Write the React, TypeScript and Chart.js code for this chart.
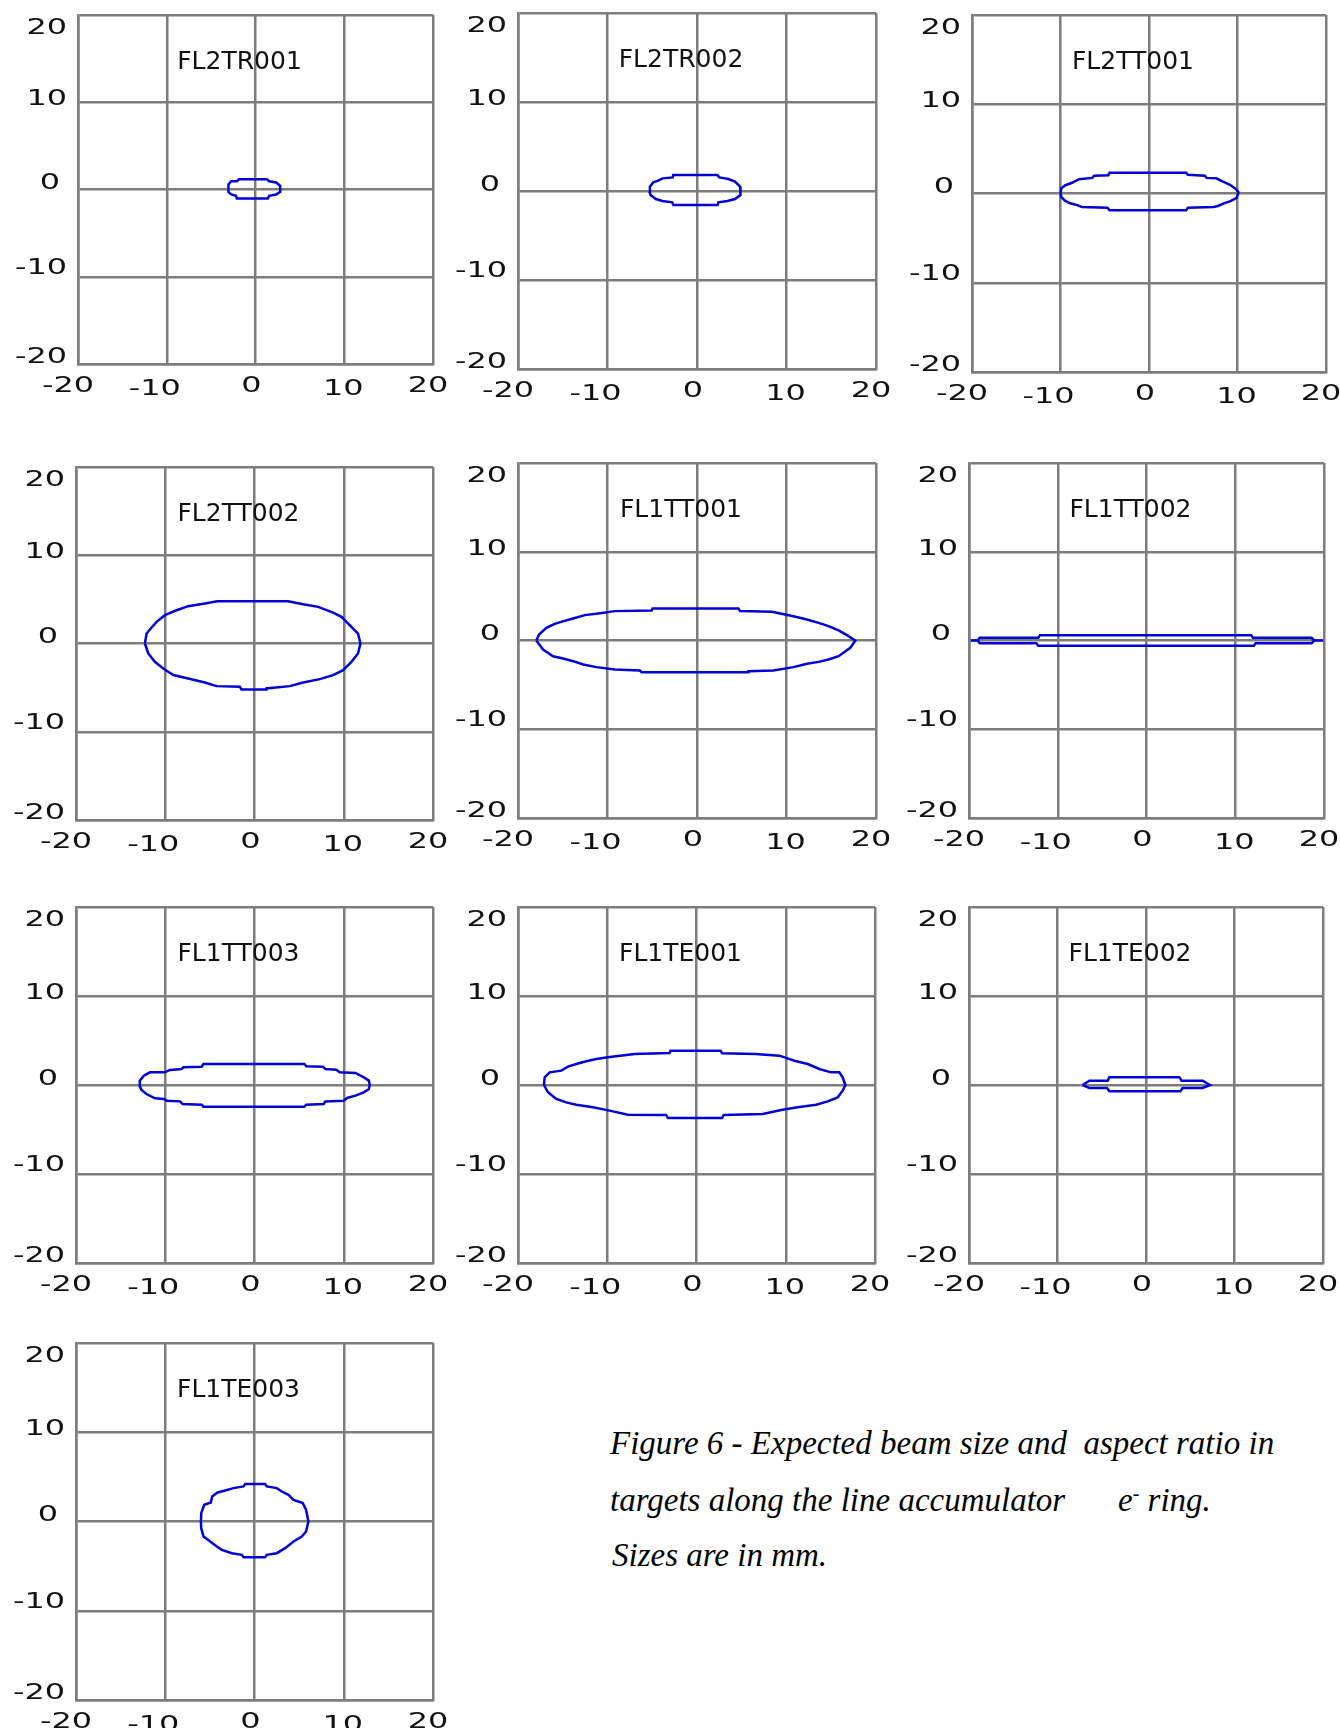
import React, { useEffect, useRef } from "react";
import { Chart, registerables } from "chart.js";

Chart.register(...registerables);

// ---------- data (mm) ----------
const PANEL_NAMES = [
  "FL2TR001", "FL2TR002", "FL2TT001",
  "FL2TT002", "FL1TT001", "FL1TT002",
  "FL1TT003", "FL1TE001", "FL1TE002",
  "FL1TE003",
];

const AXIS_TICKS = [-20, -10, 0, 10, 20];
const AXIS_MIN = -20;
const AXIS_MAX = 20;

// contour outlines [x, y]
const FL2TR001 = [
  [-3.05, 0], [-3.05, 0.57], [-2.74, 0.95], [-2.1, 0.95], [-1.85, 1.18], [1.28, 1.18],
  [1.54, 0.95], [2.33, 0.8], [2.78, 0.42], [2.78, -0.27], [2.33, -0.57], [1.54, -0.73],
  [1.39, -1.03], [-2.1, -1.03], [-2.2, -0.73], [-2.74, -0.57], [-3.05, -0.27], [-3.05, 0],
];

const FL2TR002 = [
  [-5.34, 0], [-5.26, 0.49], [-4.89, 0.97], [-4.33, 1.16], [-3.84, 1.42], [-2.72, 1.53],
  [-2.65, 1.79], [2.28, 1.79], [2.5, 1.53], [3.5, 1.35], [4.25, 1.05], [4.81, 0.49],
  [4.9, 0], [4.81, -0.45], [4.25, -0.9], [3.4, -1.12], [2.39, -1.27], [2.31, -1.57],
  [-2.65, -1.57], [-2.76, -1.27], [-3.88, -1.12], [-4.6, -0.9], [-5.19, -0.45], [-5.34, 0],
];

const FL2TT001 = [
  [-10, 0], [-9.9, 0.6], [-9.5, 0.9], [-8.7, 1.2], [-7.9, 1.6], [-6.4, 1.75], [-6.2, 2.0],
  [-4.6, 2.05], [-4.45, 2.32], [4.2, 2.32], [4.4, 2.1], [6.3, 2.0], [6.5, 1.75], [7.6, 1.7],
  [8.3, 1.35], [9.1, 1.0], [9.7, 0.6], [10.08, 0.2], [10.08, 0], [9.9, -0.5], [9.2, -0.85],
  [8.6, -1.05], [7.8, -1.4], [7.3, -1.5], [4.4, -1.6], [4.2, -1.87], [-4.45, -1.87],
  [-4.7, -1.6], [-7.6, -1.5], [-8.1, -1.3], [-8.9, -1.1], [-9.5, -0.8], [-9.9, -0.4], [-10, 0],
];

const FL2TT002 = [
  [-12.28, 0], [-12.09, 1.13], [-11.53, 1.81], [-10.97, 2.45], [-10.04, 3.21], [-8.73, 3.77],
  [-7.43, 4.23], [-5.56, 4.53], [-4.18, 4.79], [3.77, 4.79], [5.45, 4.45], [7.13, 4.15],
  [8.81, 3.51], [9.74, 3.02], [10.67, 2.08], [11.6, 1.13], [11.87, 0], [11.6, -1.13],
  [10.86, -2.08], [9.93, -3.02], [8.81, -3.58], [7.31, -4.04], [5.45, -4.42], [3.96, -4.83],
  [1.34, -5.09], [1.34, -5.2], [-1.46, -5.2], [-1.64, -4.91], [-4.25, -4.83], [-5.56, -4.42],
  [-7.43, -3.96], [-9.1, -3.58], [-10.22, -2.83], [-11.16, -2.08], [-11.9, -1.13], [-12.28, 0],
];

const FL1TT001 = [
  [-17.95, 0], [-17.65, 0.68], [-16.83, 1.43], [-15.9, 1.88], [-14.9, 2.18], [-13.84, 2.48],
  [-12.54, 2.86], [-11.04, 3.05], [-9.18, 3.31], [-5.07, 3.38], [-4.96, 3.61], [4.63, 3.61],
  [4.81, 3.31], [8.36, 3.23], [10.78, 2.74], [12.28, 2.37], [13.58, 1.99], [14.7, 1.62],
  [15.82, 1.13], [16.75, 0.6], [17.69, 0], [17.13, -0.83], [15.82, -1.77], [14.7, -2.14],
  [13.58, -2.41], [12.28, -2.63], [10.78, -3.0], [8.54, -3.38], [5.75, -3.46], [5.75, -3.57],
  [-6.19, -3.57], [-6.38, -3.38], [-9.18, -3.27], [-11.23, -3.0], [-12.72, -2.71],
  [-13.84, -2.33], [-14.96, -2.03], [-16.08, -1.77], [-17.2, -1.02], [-17.95, 0],
];

const FL1TT002 = [
  [-19.8, 0], [-19.0, 0], [-18.8, 0.3], [-12.2, 0.3], [-12.0, 0.6], [11.8, 0.6], [12.0, 0.3],
  [18.6, 0.3], [18.9, 0], [19.9, 0], [18.9, 0], [18.6, -0.3], [12.3, -0.3], [12.1, -0.6],
  [-12.2, -0.6], [-12.4, -0.3], [-18.8, -0.3], [-19.0, 0],
];

const FL1TT003 = [
  [-12.92, 0], [-12.85, 0.49], [-12.4, 1.05], [-11.72, 1.42], [-10.04, 1.42], [-9.48, 1.69],
  [-8.16, 1.8], [-7.98, 1.99], [-5.92, 2.06], [-5.73, 2.36], [5.58, 2.36], [5.81, 2.1],
  [7.68, 2.06], [7.94, 1.8], [9.18, 1.72], [9.55, 1.42], [11.31, 1.35], [12.25, 0.86],
  [12.81, 0.49], [12.92, 0], [12.81, -0.45], [12.25, -0.82], [11.31, -1.2], [10.37, -1.46],
  [10.0, -1.76], [7.94, -1.84], [7.75, -2.13], [5.81, -2.21], [5.58, -2.43], [-5.73, -2.43],
  [-5.92, -2.21], [-8.05, -2.13], [-8.35, -1.84], [-9.85, -1.76], [-10.15, -1.57],
  [-11.16, -1.5], [-12.1, -1.01], [-12.66, -0.56], [-12.92, 0],
];

const FL1TE001 = [
  [-17.09, 0], [-17.01, 0.86], [-16.45, 1.42], [-15.15, 1.61], [-14.4, 2.06], [-13.47, 2.36],
  [-12.35, 2.66], [-11.23, 2.92], [-9.93, 3.11], [-6.94, 3.48], [-3.02, 3.6], [-2.91, 3.86],
  [2.69, 3.86], [2.87, 3.56], [6.6, 3.48], [9.29, 3.3], [10.97, 2.73], [12.46, 2.36],
  [13.77, 1.8], [15.07, 1.42], [16.0, 1.42], [16.38, 0.86], [16.68, 0], [16.38, -0.64],
  [15.82, -1.39], [14.7, -1.84], [13.4, -2.21], [11.34, -2.51], [9.48, -2.81], [7.43, -3.26],
  [3.05, -3.37], [2.87, -3.71], [-3.21, -3.71], [-3.4, -3.37], [-7.69, -3.33], [-9.74, -2.88],
  [-11.6, -2.51], [-13.47, -2.21], [-14.59, -1.95], [-15.71, -1.57], [-16.64, -0.82], [-17.09, 0],
];

const FL1TE002 = [
  [-7.16, 0], [-6.4, 0.49], [-4.33, 0.49], [-4.14, 0.86], [3.77, 0.86], [4.03, 0.49],
  [6.4, 0.49], [7.23, 0], [6.4, -0.34], [4.14, -0.34], [3.88, -0.71], [-4.14, -0.71],
  [-4.41, -0.34], [-6.4, -0.34], [-7.16, 0],
];

const FL1TE003 = [
  [-6.0, 0], [-5.97, 0.93], [-5.63, 1.87], [-4.89, 2.13], [-4.74, 2.8], [-4.14, 3.25],
  [-3.28, 3.48], [-2.35, 3.74], [-1.23, 3.93], [-1.04, 4.19], [1.19, 4.19], [1.38, 3.93],
  [2.5, 3.74], [3.06, 3.36], [3.81, 2.99], [4.37, 2.43], [5.41, 2.06], [5.78, 1.31],
  [6.04, 0], [5.78, -1.12], [5.3, -1.68], [4.37, -2.24], [3.43, -2.99], [2.5, -3.55],
  [1.38, -3.74], [1.19, -4.0], [-1.23, -4.0], [-1.42, -3.74], [-2.54, -3.55], [-3.66, -3.18],
  [-4.22, -2.8], [-4.96, -2.24], [-5.71, -1.68], [-5.97, -0.75], [-6.0, 0],
];

const PANEL_DATA = [
  FL2TR001, FL2TR002, FL2TT001,
  FL2TT002, FL1TT001, FL1TT002,
  FL1TT003, FL1TE001, FL1TE002,
  FL1TE003,
];

// ---------- layout (pixel plot rectangles: left, top, right, bottom) ----------
const PANEL_RECTS = [
  [78, 15, 433, 364], [518, 13, 876, 369], [972, 15, 1326, 372],
  [76, 467, 433, 820], [518, 463, 876, 818], [969, 463, 1324, 818],
  [76, 907, 433, 1263], [518, 907, 875, 1263], [969, 907, 1323, 1263],
  [76, 1343, 433, 1700],
];

const PAD_LEFT = 70;
const PAD_TOP = 20;
const PAD_RIGHT = 25;
const PAD_BOTTOM = 45;

const GRID = "rgb(125,125,125)";
const BLUE = "rgb(0,0,215)";
const TEXT = "#111";
const TICK_FONT = '22px "DejaVu Sans"';
const TICK_STRETCH = 1.45;
const TITLE_FONT = '25px "DejaVu Sans"';

// label offsets per tick (index matches AXIS_TICKS)
const Y_LABEL_DY = [-9, -11, -8.5, -5, 11];
const X_LABEL_DX = [-10, -12, -4, -1, -5];
const X_LABEL_DY = [20, 22.5, 20, 22.5, 20];

function drawStretched(ctx, text, x, y, align) {
  ctx.save();
  ctx.translate(x, y);
  ctx.scale(TICK_STRETCH, 1);
  ctx.textAlign = align;
  ctx.fillText(text, 0, 0);
  ctx.restore();
}

const textPlugin = {
  id: "panelText",
  afterDraw(chart) {
    const { ctx, chartArea: a, scales } = chart;
    const xs = scales.x;
    const ys = scales.y;
    const name = chart.options.plugins.panelText.name;
    ctx.save();
    ctx.fillStyle = TEXT;
    ctx.textBaseline = "alphabetic";
    ctx.font = TICK_FONT;
    AXIS_TICKS.forEach((v, i) => {
      const py = ys.getPixelForValue(v) + Y_LABEL_DY[i] + 8;
      const label = String(v);
      if (v === 0) {
        drawStretched(ctx, label, a.left - 28, py, "center");
      } else {
        drawStretched(ctx, label, a.left - 11, py, "right");
      }
    });
    AXIS_TICKS.forEach((v, i) => {
      const px = xs.getPixelForValue(v) + X_LABEL_DX[i];
      const py = a.bottom + X_LABEL_DY[i] + 8;
      drawStretched(ctx, String(v), px, py, "center");
    });
    ctx.font = TITLE_FONT;
    ctx.textAlign = "center";
    ctx.fillText(name, (a.left + a.right) / 2 - 16, a.top + 54);
    ctx.restore();
  },
};

function Panel({ name, points, rect }) {
  const ref = useRef(null);
  const [l, t, r, b] = rect;
  const w = r - l + PAD_LEFT + PAD_RIGHT;
  const h = b - t + PAD_TOP + PAD_BOTTOM;

  useEffect(() => {
    const axis = (isX) => ({
      type: "linear",
      min: AXIS_MIN,
      max: AXIS_MAX,
      ticks: { stepSize: 10, display: false },
      grid: { color: GRID, lineWidth: 2.5, drawTicks: false },
      border: { display: true, color: GRID, width: 2.5 },
      afterFit: (s) => {
        if (isX) s.height = PAD_BOTTOM;
        else s.width = PAD_LEFT;
      },
    });
    const chart = new Chart(ref.current, {
      type: "scatter",
      data: {
        datasets: [
          {
            data: points.map(([x, y]) => ({ x, y })),
            showLine: true,
            borderColor: BLUE,
            backgroundColor: BLUE,
            borderWidth: 2.5,
            pointRadius: 0,
            tension: 0,
            fill: false,
          },
        ],
      },
      options: {
        animation: false,
        responsive: false,
        maintainAspectRatio: false,
        devicePixelRatio: 1,
        events: [],
        layout: { padding: { top: PAD_TOP, right: PAD_RIGHT, left: 0, bottom: 0 } },
        plugins: {
          legend: { display: false },
          tooltip: { enabled: false },
          title: { display: false },
          panelText: { name },
        },
        scales: { x: axis(true), y: axis(false) },
      },
      plugins: [textPlugin],
    });
    return () => chart.destroy();
  }, [name, points]);

  return (
    <canvas
      ref={ref}
      width={w}
      height={h}
      style={{ position: "absolute", left: l - PAD_LEFT, top: t - PAD_TOP, width: w, height: h }}
    />
  );
}

const CAPTION_STYLE = {
  position: "absolute",
  fontFamily: '"Liberation Serif", "Times New Roman", serif',
  fontStyle: "italic",
  fontSize: 33,
  lineHeight: "33px",
  color: "#000",
  whiteSpace: "pre",
};

export default function App() {
  return (
    <div
      style={{
        position: "absolute",
        left: 0,
        top: 0,
        width: 1340,
        height: 1728,
        background: "#fff",
        overflow: "hidden",
      }}
    >
      {PANEL_NAMES.map((n, i) => (
        <Panel key={n} name={n} points={PANEL_DATA[i]} rect={PANEL_RECTS[i]} />
      ))}
      <div style={{ ...CAPTION_STYLE, left: 610, top: 1427 }}>
        {"Figure 6 - Expected beam size and  aspect ratio in"}
      </div>
      <div style={{ ...CAPTION_STYLE, left: 610, top: 1484 }}>
        {"targets along the line accumulator"}
      </div>
      <div style={{ ...CAPTION_STYLE, left: 1118, top: 1484 }}>
        e<sup style={{ fontSize: 20, verticalAlign: "0.55em", lineHeight: 0 }}>-</sup>
        {" ring."}
      </div>
      <div style={{ ...CAPTION_STYLE, left: 612, top: 1539 }}>{"Sizes are in mm."}</div>
    </div>
  );
}
